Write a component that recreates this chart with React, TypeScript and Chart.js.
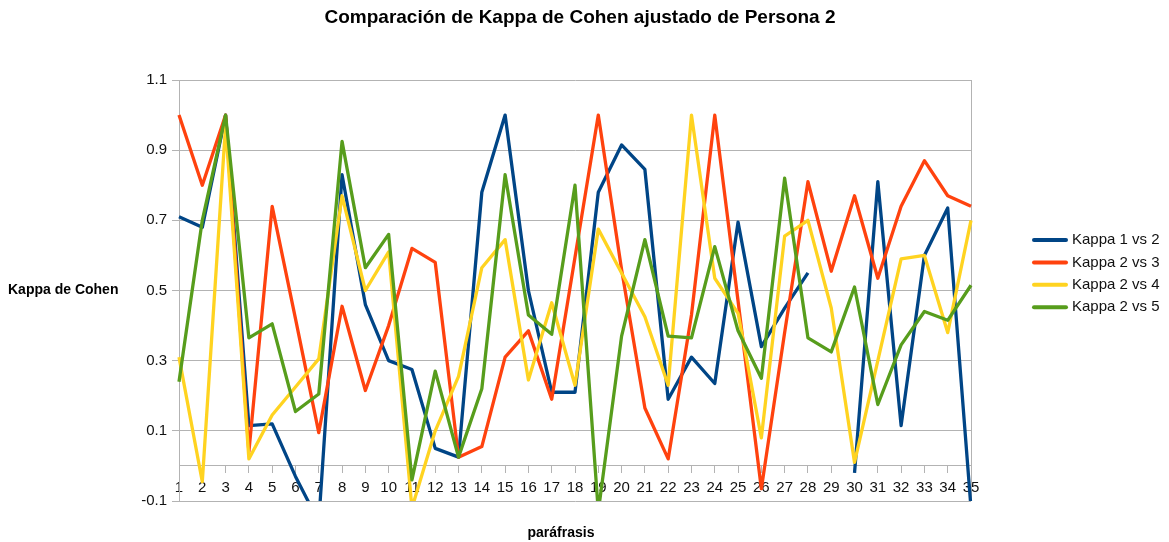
import React, { useEffect, useRef } from "react";
import { Chart, registerables } from "chart.js";

Chart.register(...registerables);

const categories = [
  "1", "2", "3", "4", "5", "6", "7", "8", "9", "10", "11", "12", "13", "14", "15", "16", "17", "18",
  "19", "20", "21", "22", "23", "24", "25", "26", "27", "28", "29", "30", "31", "32", "33", "34", "35",
];

const kappa1vs2 = [
  0.71, 0.68, 1.0, 0.115, 0.12, -0.03, -0.16, 0.83, 0.46, 0.3, 0.275, 0.05, 0.025, 0.78, 1.0, 0.5, 0.21,
  0.21, 0.78, 0.915, 0.845, 0.19, 0.31, 0.235, 0.695, 0.34, 0.45, 0.55, null, -0.02, 0.81, 0.115, 0.6,
  0.735, -0.12,
];

const kappa2vs3 = [
  1.0, 0.8, 1.0, 0.04, 0.74, 0.42, 0.095, 0.455, 0.215, 0.4, 0.62, 0.58, 0.025, 0.055, 0.31, 0.385, 0.19,
  0.595, 1.0, 0.56, 0.165, 0.02, 0.43, 1.0, 0.47, -0.065, 0.38, 0.81, 0.555, 0.77, 0.535, 0.74, 0.87,
  0.77, 0.74,
];

const kappa2vs4 = [
  0.31, -0.045, 0.97, 0.02, 0.145, 0.225, 0.305, 0.77, 0.5, 0.61, -0.12, 0.1, 0.255, 0.565, 0.645, 0.245,
  0.465, 0.23, 0.675, 0.55, 0.425, 0.23, 1.0, 0.535, 0.435, 0.08, 0.655, 0.7, 0.45, 0.01, 0.3, 0.59, 0.6,
  0.38, 0.7,
];

const kappa2vs5 = [
  0.24, 0.7, 1.0, 0.365, 0.405, 0.155, 0.205, 0.925, 0.565, 0.66, -0.04, 0.27, 0.025, 0.22, 0.83, 0.43,
  0.375, 0.8, -0.13, 0.37, 0.645, 0.37, 0.365, 0.625, 0.385, 0.25, 0.82, 0.365, 0.325, 0.51, 0.175, 0.345,
  0.44, 0.415, 0.515,
];

const seriesNames = ["Kappa 1 vs 2", "Kappa 2 vs 3", "Kappa 2 vs 4", "Kappa 2 vs 5"];
const seriesColors = ["#004586", "#ff420e", "#ffd320", "#579d1c"];
const yTicks = [-0.1, 0.1, 0.3, 0.5, 0.7, 0.9, 1.1];

const titleText = "Comparación de Kappa de Cohen ajustado de Persona 2";
const yTitleText = "Kappa de Cohen";
const xTitleText = "paráfrasis";

const FONT = "'Liberation Sans', Arial, sans-serif";
const GRID = "#b3b3b3";
const TEXT = "#111111";

const decorPlugin = {
  id: "decor",
  beforeDatasetsDraw(chart: any) {
    const { ctx, chartArea } = chart;
    ctx.save();
    ctx.strokeStyle = GRID;
    ctx.lineWidth = 1;
    const x = Math.round(chartArea.right) + 0.5;
    ctx.beginPath();
    ctx.moveTo(x, chartArea.top);
    ctx.lineTo(x, chartArea.bottom);
    ctx.stroke();
    ctx.restore();
  },
  afterDraw(chart: any) {
    const { ctx, chartArea } = chart;
    ctx.save();
    ctx.fillStyle = "#000";
    ctx.textBaseline = "middle";
    ctx.textAlign = "center";
    ctx.font = `bold 19px ${FONT}`;
    ctx.fillText(titleText, 580, 18);

    ctx.font = `bold 14px ${FONT}`;
    ctx.textAlign = "left";
    ctx.fillText(yTitleText, 8, (chartArea.top + chartArea.bottom) / 2);
    ctx.textAlign = "center";
    ctx.fillText(xTitleText, 561, 533);

    ctx.font = `15px ${FONT}`;
    ctx.lineCap = "round";
    chart.data.datasets.forEach((ds: any, i: number) => {
      const y = 240 + i * 22.4;
      ctx.strokeStyle = ds.borderColor;
      ctx.lineWidth = 4;
      ctx.beginPath();
      ctx.moveTo(1034, y);
      ctx.lineTo(1066, y);
      ctx.stroke();
      ctx.fillStyle = TEXT;
      ctx.textAlign = "left";
      ctx.fillText(ds.label, 1072, y);
    });
    ctx.restore();
  },
};

export default function App() {
  const canvasRef = useRef<HTMLCanvasElement | null>(null);

  useEffect(() => {
    document.body.style.margin = "0";
    const canvas = canvasRef.current;
    if (!canvas) return;
    const seriesData = [kappa1vs2, kappa2vs3, kappa2vs4, kappa2vs5];
    const drawOrder = [3, 2, 1, 0];
    const chart = new Chart(canvas, {
      type: "line",
      data: {
        labels: categories,
        datasets: seriesData.map((d, i) => ({
          label: seriesNames[i],
          data: d,
          borderColor: seriesColors[i],
          backgroundColor: seriesColors[i],
          borderWidth: 3.3,
          borderJoinStyle: "round",
          pointRadius: 0,
          pointHoverRadius: 0,
          tension: 0,
          fill: false,
          spanGaps: false,
          order: drawOrder[i],
          clip: { left: 2, right: 2, top: 2, bottom: 0 },
        })),
      },
      options: {
        responsive: false,
        animation: false,
        events: [],
        layout: { padding: { left: 0, right: 198, top: 80, bottom: 41 } },
        plugins: {
          legend: { display: false },
          tooltip: { enabled: false },
          title: { display: false },
        },
        scales: {
          x: {
            type: "category",
            position: { y: 0 },
            offset: false,
            afterFit: (scale: any) => {
              scale.height = 0;
            },
            grid: {
              display: true,
              drawOnChartArea: false,
              drawTicks: true,
              tickLength: 7,
              color: GRID,
              tickColor: GRID,
            },
            border: { display: true, color: GRID, width: 1 },
            ticks: {
              autoSkip: false,
              maxRotation: 0,
              minRotation: 0,
              padding: 6,
              color: TEXT,
              font: { family: FONT, size: 15 },
            },
          },
          y: {
            type: "linear",
            min: -0.1,
            max: 1.1,
            afterFit: (scale: any) => {
              scale.width = 179;
            },
            afterBuildTicks: (scale: any) => {
              scale.ticks = yTicks.map((v) => ({ value: v }));
            },
            grid: {
              color: GRID,
              tickColor: GRID,
              drawTicks: true,
              tickLength: 7,
              lineWidth: 1,
            },
            border: { display: true, color: GRID, width: 1 },
            ticks: {
              padding: 5,
              color: TEXT,
              font: { family: FONT, size: 15 },
              callback: (v: any) => Number(v).toFixed(1),
            },
          },
        },
      },
      plugins: [decorPlugin],
    } as any);
    return () => chart.destroy();
  }, []);

  return (
    <div style={{ width: 1169, height: 542 }}>
      <canvas ref={canvasRef} width={1169} height={542} style={{ display: "block" }} />
    </div>
  );
}
